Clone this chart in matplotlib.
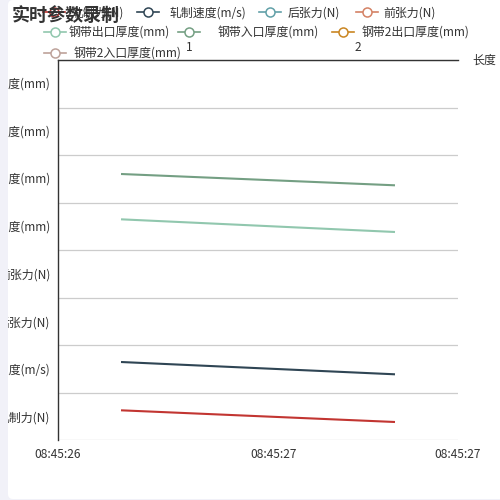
import matplotlib
matplotlib.use('Agg')
import matplotlib.pyplot as plt
import matplotlib.dates as mdates
import matplotlib.ticker as mticker
from matplotlib.lines import Line2D
from matplotlib.patches import FancyBboxPatch, Rectangle
import pandas as pd

plt.rcParams['font.family'] = ['Noto Sans CJK SC', 'DejaVu Sans']

# ---------------- data ----------------
categories = ['轧制力(N)', '轧制速度(m/s)', '后张力(N)', '前张力(N)',
              '钢带出口厚度(mm)', '钢带入口厚度(mm)', '钢带2出口厚度(mm)', '钢带2入口厚度(mm)']
colors = ['#c23531', '#2f4554', '#61a0a8', '#d48265',
          '#91c7ae', '#749f83', '#ca8622', '#bda29a']
times = pd.to_datetime(['2024-01-01 08:45:26.442', '2024-01-01 08:45:27.442'])
x_range = pd.to_datetime(['2024-01-01 08:45:26.212', '2024-01-01 08:45:27.672'])
x_mid_tick = pd.to_datetime(['2024-01-01 08:45:27.000'])
# values (offset inside each category band)
rolling_force = [0.125, -0.121]
rolling_speed = [0.142, -0.117]
strip_exit_thickness = [0.146, -0.121]
strip_entry_thickness = [0.100, -0.138]
length_ticks = [1, 2]
length_range = [0.225, 2.592]

series = [(0, rolling_force), (1, rolling_speed),
          (4, strip_exit_thickness), (5, strip_entry_thickness)]

W = 500.0
def fx(x):
    return x / W
def fy(y):
    return 1 - y / W

fig = plt.figure(figsize=(5, 5), dpi=100)
fig.patch.set_facecolor('#f1f1f8')
card = FancyBboxPatch((fx(8), fy(499)), fx(600), 499 / W,
                      boxstyle='round,pad=0,rounding_size=0.01',
                      transform=fig.transFigure, facecolor='white',
                      edgecolor='none', zorder=-5)
fig.add_artist(card)

ax = fig.add_axes([fx(58), fy(440), fx(400), 380 / W])
ax.patch.set_alpha(0)
tx = mdates.date2num(times)
for idx, vals in series:
    ax.plot(tx, [idx + v for v in vals], color=colors[idx], lw=1.5,
            solid_capstyle='butt', zorder=3)

ax.set_ylim(-0.5, len(categories) - 0.5)
ax.set_yticks(range(len(categories)))
ax.set_yticklabels(categories)
ax.yaxis.set_minor_locator(mticker.FixedLocator([i - 0.5 for i in range(len(categories) + 1)]))
ax.grid(which='minor', axis='y', color='#cccccc', lw=0.9)
ax.tick_params(axis='y', which='both', length=0, pad=5.5, labelsize=8.6, colors='#333333')

xn = mdates.date2num(x_range)
ax.set_xlim(xn[0], xn[1])
ax.set_xticks([xn[0], mdates.date2num(x_mid_tick)[0], xn[1]])
ax.xaxis.set_major_formatter(mdates.DateFormatter('%H:%M:%S'))
ax.tick_params(axis='x', length=0, pad=6, labelsize=8.6, colors='#333333')

for s in ['right', 'bottom', 'top']:
    ax.spines[s].set_visible(False)
ax.spines['left'].set_color('#333333')
ax.spines['left'].set_linewidth(1)

ax2 = ax.twiny()
ax2.set_xlim(*length_range)
ax2.set_xticks(length_ticks)
ax2.tick_params(axis='x', length=0, pad=4, labelsize=8.6, colors='#333333')
for s in ['right', 'bottom', 'left']:
    ax2.spines[s].set_visible(False)
ax2.spines['top'].set_color('#333333')
ax2.spines['top'].set_linewidth(1)
fig.text(fx(472), fy(59), '长度', fontsize=8.6, color='#333333',
         ha='left', va='center_baseline')

# lavender strip covering clipped labels
fig.add_artist(Rectangle((0, 0), fx(8), 1, transform=fig.transFigure,
                         facecolor='#f1f1f8', edgecolor='none', zorder=5))

# legend
legend_items = [(0, 54, 12, 72), (1, 148, 12, 170), (2, 270, 12, 288), (3, 367, 12, 383),
                (4, 55, 32, 69), (5, 189, 32, 218), (6, 343, 32, 362), (7, 55, 53, 74)]
for idx, cx, cy, tx0 in legend_items:
    fig.add_artist(Line2D([fx(cx - 11), fx(cx + 11)], [fy(cy), fy(cy)],
                          transform=fig.transFigure, color=colors[idx], lw=1.2, zorder=6))
    fig.add_artist(Line2D([fx(cx)], [fy(cy)], transform=fig.transFigure, marker='o',
                          markersize=6.5, markerfacecolor='white',
                          markeredgecolor=colors[idx], markeredgewidth=1.1,
                          linestyle='none', zorder=6))
    fig.text(fx(tx0), fy(cy), categories[idx], fontsize=8.6, color='#333333',
             ha='left', va='center_baseline', zorder=6)

fig.text(fx(12), fy(13), '实时参数录制', fontsize=13, fontweight='bold',
         color='#333333', ha='left', va='center_baseline', zorder=7)

fig.savefig('out.png', dpi=100, facecolor=fig.get_facecolor())
